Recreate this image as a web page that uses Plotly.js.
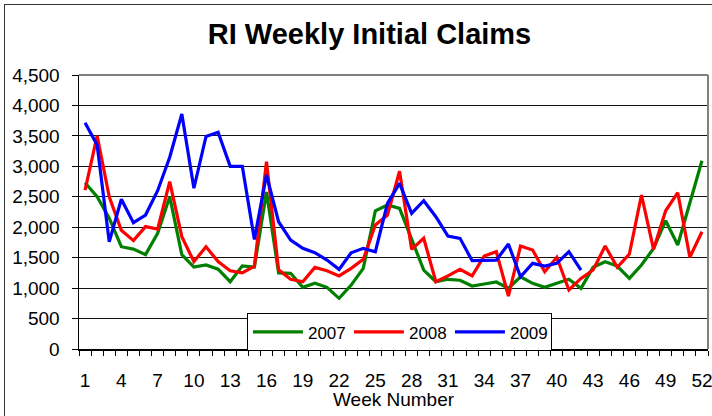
<!DOCTYPE html>
<html>
<head>
<meta charset="utf-8">
<script src="https://cdn.plot.ly/plotly-3.0.1.min.js"></script>
<style>
html,body{margin:0;padding:0;overflow:hidden;background:#fff;}
#chart{width:712px;height:416px;position:absolute;left:0;top:0;}
#frame{position:absolute;left:4px;top:4px;width:740px;height:440px;border:1.5px solid #333;pointer-events:none;}
</style>
</head>
<body>
<div id="chart"></div>
<div id="frame"></div>
<script>
const weeks = Array.from({length: 52}, (_, i) => i + 1);
const y2007 = [2730, 2500, 2150, 1680, 1640, 1550, 1900, 2500, 1550, 1345, 1380, 1310, 1105, 1365, 1345, 2580, 1250, 1243, 1013, 1079, 1013, 832, 1050, 1325, 2270, 2365, 2310, 1790, 1297, 1105, 1145, 1130, 1035, 1067, 1100, 997, 1187, 1079, 1013, 1079, 1145, 997, 1341, 1434, 1363, 1160, 1379, 1653, 2107, 1708, 2400, 3092];
const y2008 = [2610, 3500, 2500, 1950, 1780, 2010, 1970, 2750, 1845, 1435, 1680, 1435, 1285, 1250, 1360, 3075, 1300, 1145, 1105, 1340, 1285, 1200, 1325, 1473, 2036, 2200, 2920, 1637, 1818, 1105, 1200, 1308, 1200, 1527, 1598, 870, 1691, 1626, 1270, 1506, 969, 1160, 1297, 1691, 1341, 1560, 2529, 1637, 2270, 2567, 1506, 1926];
const y2009 = [3716, 3350, 1760, 2460, 2075, 2200, 2600, 3150, 3860, 2640, 3490, 3560, 3000, 3000, 1800, 2860, 2090, 1790, 1653, 1581, 1461, 1308, 1581, 1653, 1598, 2390, 2720, 2228, 2435, 2172, 1855, 1817, 1450, 1460, 1460, 1724, 1187, 1407, 1363, 1407, 1598, 1297];
const seriesNames = ['2007', '2008', '2009'];
const seriesColors = ['#008000', '#ff0000', '#0000ff'];
const yTicks = [0, 500, 1000, 1500, 2000, 2500, 3000, 3500, 4000, 4500];
const xTicks = [1, 4, 7, 10, 13, 16, 19, 22, 25, 28, 31, 34, 37, 40, 43, 46, 49, 52];
const xBoundaries = Array.from({length: 53}, (_, i) => i + 0.5);

const FONT = '"Liberation Sans", Arial, sans-serif';
const data = [y2007, y2008, y2009].map((ys, k) => ({
  type: 'scatter', mode: 'lines', name: seriesNames[k],
  x: weeks.slice(0, ys.length), y: ys,
  line: {color: seriesColors[k], width: 3.2}
}));
data.push({type: 'scatter', mode: 'lines', x: [], y: [], xaxis: 'x2', showlegend: false, hoverinfo: 'skip'});

const layout = {
  width: 712, height: 416,
  margin: {l: 79, r: 4, t: 75, b: 67},
  paper_bgcolor: '#fff', plot_bgcolor: '#fff',
  font: {family: FONT, color: '#000', size: 19},
  title: {text: '<b>RI Weekly Initial Claims</b>', font: {family: FONT, size: 29, color: '#000'},
          x: 0.519, xref: 'container', xanchor: 'center', y: 0.918, yref: 'container', yanchor: 'middle'},
  xaxis: {
    range: [0.5, 52.5], tickmode: 'array', tickvals: xBoundaries, showticklabels: false,
    ticks: 'outside', ticklen: 5, tickcolor: '#000', tickwidth: 1,
    showgrid: false, zeroline: false,
    showline: true, linecolor: '#000', linewidth: 1.5
  },
  xaxis2: {
    overlaying: 'x', anchor: 'y', side: 'bottom',
    range: [0.5, 52.5], tickmode: 'array', tickvals: xTicks, ticktext: xTicks.map(String),
    ticks: '', showgrid: false, zeroline: false, showline: false,
    ticklabelstandoff: 18, ticklabeloverflow: 'allow', tickfont: {size: 19}
  },
  yaxis: {
    range: [0, 4500], tickmode: 'array', tickvals: yTicks,
    ticktext: yTicks.map(v => v.toLocaleString('en-US')),
    ticks: 'outside', ticklen: 6, tickcolor: '#000', tickwidth: 1,
    showgrid: true, gridcolor: '#111', gridwidth: 1,
    zeroline: false, showline: true, linecolor: '#000', linewidth: 1.5,
    ticklabelstandoff: 8,
    tickfont: {size: 19}
  },
  annotations: [
    {text: 'Week Number', xref: 'paper', yref: 'paper', x: 0.5, y: -0.1825,
     xanchor: 'center', yanchor: 'middle', showarrow: false, font: {size: 19}}
  ],
  shapes: [
    {type: 'line', xref: 'paper', yref: 'paper', x0: 0, x1: 1, y0: 1, y1: 1, line: {color: '#808080', width: 2}},
    {type: 'line', xref: 'paper', yref: 'paper', x0: 1, x1: 1, y0: 0, y1: 1, line: {color: '#808080', width: 2}}
  ],
  showlegend: true,
  legend: {
    orientation: 'h', x: 0.267, xanchor: 'left', y: 0.13, yanchor: 'top',
    bgcolor: '#fff', bordercolor: '#000', borderwidth: 1,
    font: {size: 17}, itemwidth: 50, entrywidth: 36, entrywidthmode: 'pixels',
    tracegroupgap: 0
  }
};

Plotly.newPlot('chart', data, layout, {displayModeBar: false, staticPlot: true});
</script>
</body>
</html>
